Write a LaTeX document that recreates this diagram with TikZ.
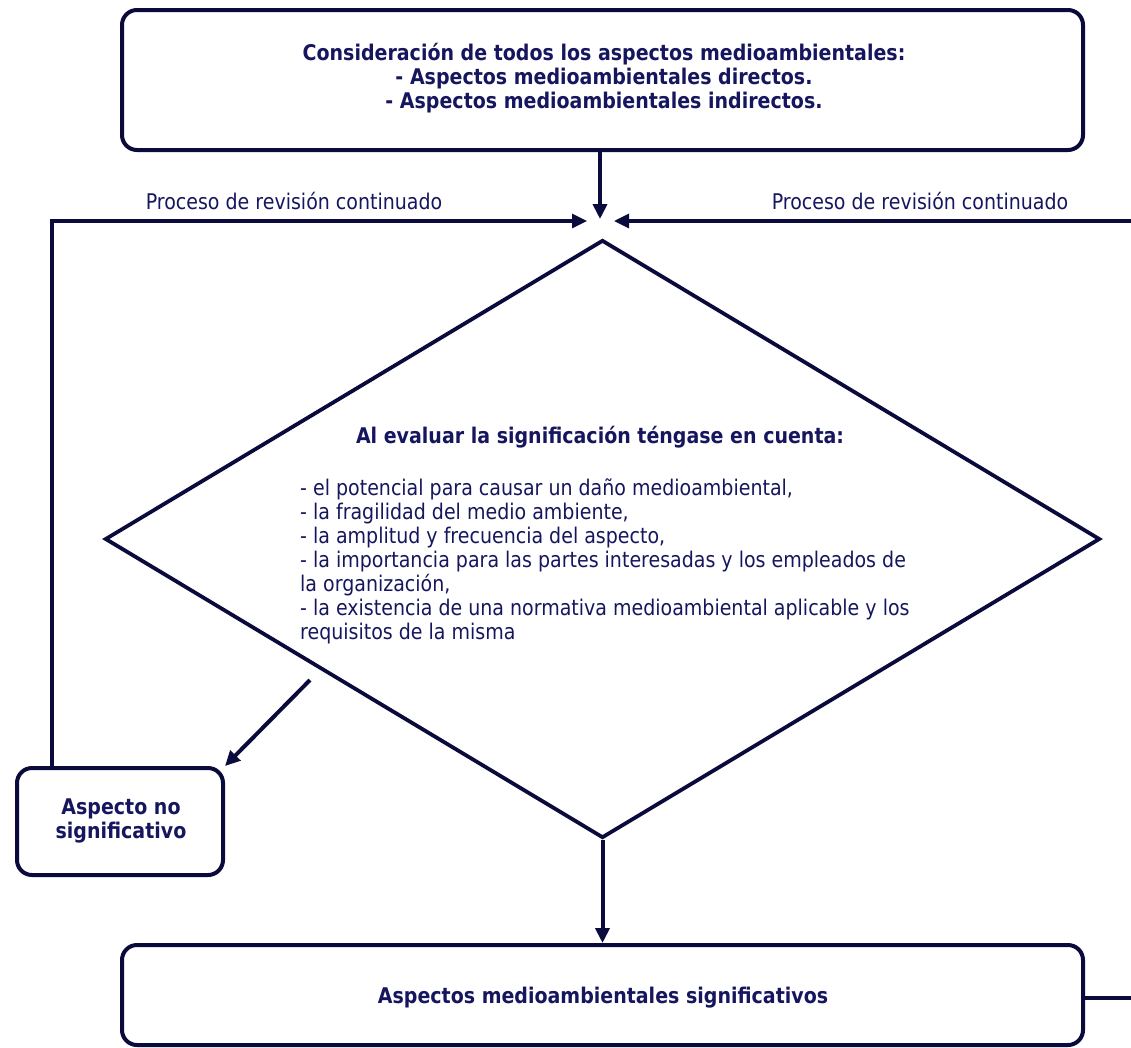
\documentclass[tikz,border=0pt]{standalone}
\usepackage{fontspec}
\setmainfont{DejaVu Sans}[FakeStretch=0.88]
\usetikzlibrary{arrows.meta,shapes.geometric}
\definecolor{ln}{RGB}{10,10,60}
\definecolor{tx}{RGB}{22,22,95}
\begin{document}
\begin{tikzpicture}[x=1pt,y=-1pt,
  box/.style={draw=ln,line width=4pt,rounded corners=15pt,inner sep=0pt},
  conn/.style={draw=ln,line width=4pt},
  thin/.style={draw=ln,line width=3.2pt},
  arr/.style={conn,-{Triangle[length=15pt,width=14pt]}},
  tarr/.style={thin,-{Triangle[length=15pt,width=14pt]}},
  btxt/.style={text=tx,font=\fontsize{21.6}{24}\selectfont\bfseries,align=center,inner sep=0pt},
  ntxt/.style={text=tx,font=\fontsize{21.6}{24}\selectfont,inner sep=0pt}]
\useasboundingbox (0,0) rectangle (1131,1047);
\node[box,minimum width=961pt,minimum height=140pt] (top) at (602.5,80) {};
\node[btxt] (toptxt) at (604,78) {Consideración de todos los aspectos medioambientales:\\- Aspectos medioambientales directos.\\- Aspectos medioambientales indirectos.};
\node[draw=ln,line width=3.8pt,diamond,minimum width=995pt,minimum height=598pt,inner sep=0pt] (dia) at (602.5,539) {};
\node[btxt] (diatitle) at (600,437) {Al evaluar la significación téngase en cuenta:};
\node[ntxt,align=left,anchor=north west] (diabody) at (300,479) {- el potencial para causar un daño medioambiental,\\- la fragilidad del medio ambiente,\\- la amplitud y frecuencia del aspecto,\\- la importancia para las partes interesadas y los empleados de\\la organización,\\- la existencia de una normativa medioambiental aplicable y los\\requisitos de la misma};
\node[box,minimum width=206pt,minimum height=107pt] (nosig) at (120,821.5) {};
\node[btxt] (nosigtxt) at (121,821) {Aspecto no\\significativo};
\node[box,minimum width=961pt,minimum height=100pt] (sig) at (602.5,995) {};
\node[btxt] (sigtxt) at (603,998) {Aspectos medioambientales significativos};
\node[ntxt] (lblL) at (294,201) {Proceso de revisión continuado};
\node[ntxt] (lblR) at (920,201) {Proceso de revisión continuado};
\coordinate (mT) at (600,219);
\coordinate (mL) at (587,221);
\coordinate (mR) at (614,221);
\coordinate (cL) at (52,221);
\coordinate (eR) at (1131,221);
\coordinate (eB) at (1131,998);
\coordinate (dS) at (310,680);
\draw[arr] (top.south -| mT) -- (mT);
\draw[tarr] (nosig.north -| cL) -- (cL) -- (mL);
\draw[tarr] (eR) -- (mR);
\draw[arr] (dS) -- (nosig.north east);
\draw[arr] (dia.south) -- (sig.north -| dia.south);
\draw[thin] (sig.east |- eB) -- (eB);
\end{tikzpicture}
\end{document}
